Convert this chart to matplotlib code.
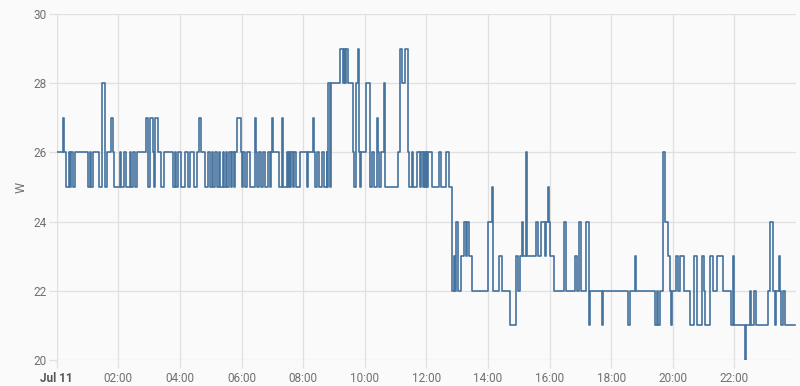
import matplotlib
matplotlib.use("Agg")
import matplotlib.pyplot as plt

# power reading changes: minutes after midnight (Jul 11) -> watts
change_min = [
    0, 12, 14, 19, 23, 25, 28, 31, 36, 60, 65, 67, 71, 83, 88, 94, 98, 105, 110, 112,
    123, 125, 131, 134, 143, 145, 149, 153, 157, 173, 178, 182, 187, 189, 191, 197, 203, 208,
    227, 231, 233, 237, 242, 250, 255, 260, 268, 273, 278, 282, 289, 294, 298, 302, 304, 308,
    312, 316, 319, 323, 326, 329, 332, 336, 339, 341, 345, 348, 352, 358, 360, 363, 367, 370,
    377, 386, 387, 389, 390, 394, 397, 402, 406, 412, 416, 418, 419, 421, 432, 438, 440, 448,
    450, 453, 455, 456, 460, 463, 467, 474, 487, 490, 499, 501, 503, 507, 510, 516, 520, 526,
    527, 529, 532, 535, 552, 557, 559, 562, 564, 568, 577, 579, 583, 586, 589, 591, 593, 602,
    610, 614, 618, 623, 624, 626, 628, 632, 638, 639, 665, 669, 672, 678, 685, 686, 692, 694,
    702, 708, 710, 713, 715, 717, 719, 722, 724, 731, 745, 749, 758, 765,
    770, 773, 776, 778, 782, 787, 794, 797, 799, 804, 808, 841, 848, 850, 862, 867, 883, 895,
    899, 902, 906, 909, 914, 917, 934, 937, 943, 951, 954, 957, 958, 961, 969, 989, 992, 1010,
    1014, 1018, 1021, 1031, 1037, 1038, 1063, 1064, 1112, 1117, 1126, 1128, 1165, 1169, 1172,
    1175, 1180, 1185, 1191, 1195, 1197, 1198, 1206, 1211, 1214, 1221, 1234, 1242, 1248, 1256,
    1261, 1263, 1273, 1278, 1286, 1297, 1313, 1318, 1319, 1341, 1342, 1350, 1352, 1359, 1362,
    1385, 1390, 1395, 1399, 1401, 1406, 1408, 1411, 1414, 1419,
]
watts = [
    26, 27, 26, 25, 26, 25, 26, 25, 26, 25, 26, 25, 26, 25, 28, 25, 26, 27, 26, 25,
    26, 25, 26, 25, 26, 25, 26, 25, 26, 27, 25, 27, 26, 25, 27, 26, 25, 26,
    25, 26, 25, 26, 25, 26, 25, 26, 25, 26, 27, 26, 25, 26, 25, 26, 25, 26,
    25, 26, 25, 26, 25, 26, 25, 26, 25, 26, 25, 26, 27, 26, 25, 26, 25, 26,
    25, 26, 27, 26, 25, 26, 25, 26, 25, 26, 25, 26, 27, 26, 25, 27, 25, 26,
    25, 26, 25, 26, 25, 26, 25, 26, 25, 26, 27, 26, 25, 26, 25, 26, 25, 26,
    25, 28, 25, 28, 29, 28, 29, 28, 29, 28, 26, 25, 28, 29, 26, 25, 26, 28,
    25, 26, 25, 26, 27, 26, 25, 26, 28, 25, 26, 29, 28, 29, 26, 25, 26, 25,
    26, 25, 26, 25, 26, 25, 26, 25, 26, 25, 26, 25, 26, 25,
    22, 23, 22, 24, 22, 23, 24, 23, 24, 23, 22, 24, 25, 22, 23, 22, 21, 23,
    22, 23, 24, 23, 26, 23, 24, 23, 24, 23, 24, 25, 24, 23, 22, 24, 22, 23,
    22, 24, 22, 24, 21, 22, 21, 22, 21, 22, 23, 22, 21, 22, 21,
    22, 26, 24, 23, 22, 21, 22, 23, 22, 23, 22, 21, 23, 21, 23,
    22, 21, 23, 22, 23, 22, 21, 23, 21, 20, 21, 22, 21, 22, 21,
    22, 24, 22, 21, 22, 23, 22, 21, 22, 21,
]
end_min = 1439

y_ticks = [20, 22, 24, 26, 28, 30]
x_ticks = list(range(0, 1440, 120))
x_labels = ["Jul 11", "02:00", "04:00", "06:00", "08:00", "10:00", "12:00",
            "14:00", "16:00", "18:00", "20:00", "22:00"]

plt.rcParams['font.family'] = ['Roboto', 'DejaVu Sans']

fig = plt.figure(figsize=(8.0, 3.86), dpi=100)
fig.patch.set_facecolor('#fafafa')
ax = fig.add_axes([0.0709, 0.0674, 0.9241, 0.8963])
ax.set_facecolor('#fafafa')

xs = change_min + [end_min]
ys = watts + [watts[-1]]
ax.step(xs, ys, where='post', color='#44739e', lw=1.2, zorder=3)

ax.set_xlim(0, 1440)
ax.set_ylim(20, 30)
ax.set_yticks(y_ticks)
ax.set_xticks(x_ticks)
ax.set_xticklabels(x_labels)
ax.grid(True, color='#e0e0e0', lw=0.9)
for s in ax.spines.values():
    s.set_visible(False)
ax.tick_params(axis='both', length=5.5, width=0.9, color='#e0e0e0',
               labelcolor='#707070', labelsize=8.5, pad=2)
ax.tick_params(axis='x', pad=3)
ax.get_xticklabels()[0].set_fontweight('bold')
ax.get_xticklabels()[0].set_color('#555555')
ax.set_ylabel('W', color='#707070', fontsize=9, labelpad=4)

fig.savefig('out.png', dpi=100, facecolor=fig.get_facecolor())
